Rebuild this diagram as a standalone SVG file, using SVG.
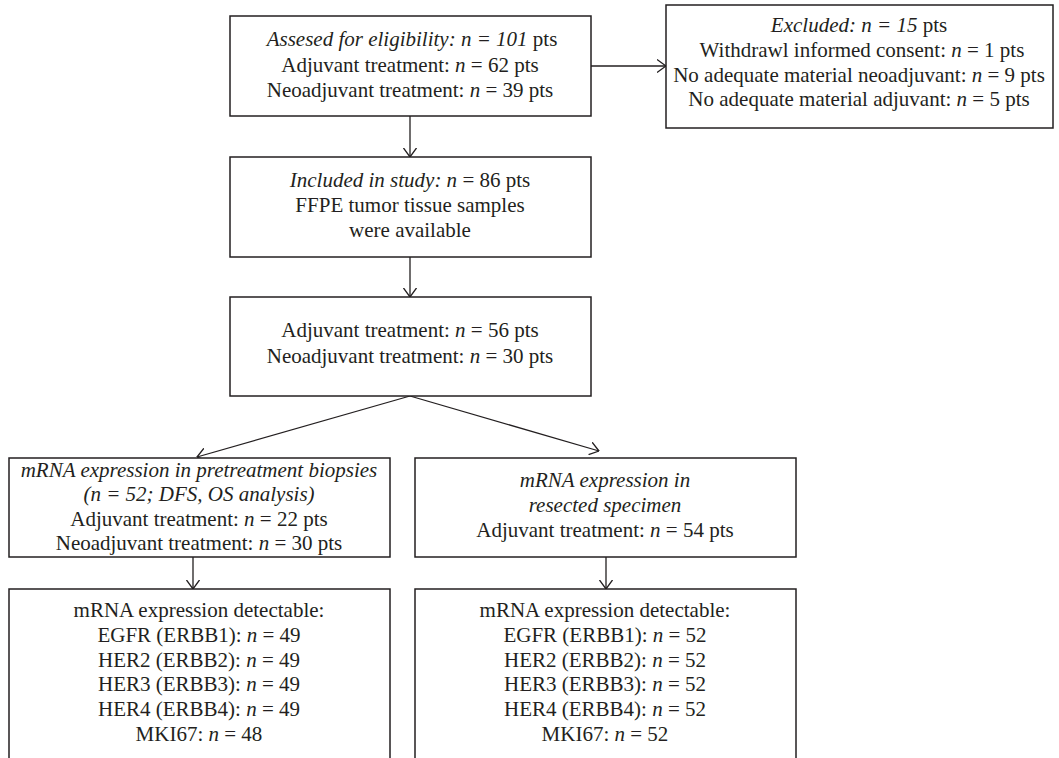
<svg xmlns="http://www.w3.org/2000/svg" width="1059" height="758" viewBox="0 0 1059 758">
<style>
.box{fill:#fff;stroke:#231f20;stroke-width:1.5}
.t{font-family:"Liberation Serif","Times New Roman",serif;font-size:21px;fill:#231f20;text-anchor:middle}
.i{font-style:italic}
.c{fill:none;stroke:#231f20;stroke-width:1.3}
</style>
<defs>
<marker id="ah" markerUnits="userSpaceOnUse" viewBox="0 0 10 14" refX="9.5" refY="7" markerWidth="10" markerHeight="14" orient="auto">
<path d="M0.5,0.5 L9.5,7 L0.5,13.5" fill="none" stroke="#231f20" stroke-width="1.3"/>
</marker>
</defs>
<rect width="1059" height="758" fill="#fff"/>
<g id="connectors">
<path class="c" d="M591,66 H666" marker-end="url(#ah)"/>
<path class="c" d="M410,116 V157" marker-end="url(#ah)"/>
<path class="c" d="M410,257 V297" marker-end="url(#ah)"/>
<path class="c" d="M410,396 L197,457" marker-end="url(#ah)"/>
<path class="c" d="M410,396 L599,451" marker-end="url(#ah)"/>
<path class="c" d="M193,557 V589" marker-end="url(#ah)"/>
<path class="c" d="M606,557 V589" marker-end="url(#ah)"/>
</g>
<g id="assessed">
<rect class="box" x="230" y="16" width="361" height="100"/>
<text class="t" x="412" y="46"><tspan class="i">Assesed for eligibility: n = 101</tspan> pts</text>
<text class="t" x="410" y="72">Adjuvant treatment: <tspan class="i">n</tspan> = 62 pts</text>
<text class="t" x="410" y="97">Neoadjuvant treatment: <tspan class="i">n</tspan> = 39 pts</text>
</g>
<g id="excluded">
<rect class="box" x="666" y="5" width="387" height="123"/>
<text class="t" x="859" y="32"><tspan class="i">Excluded: n = 15</tspan> pts</text>
<text class="t" x="862" y="57">Withdrawl informed consent: <tspan class="i">n</tspan> = 1 pts</text>
<text class="t" x="859" y="82">No adequate material neoadjuvant: <tspan class="i">n</tspan> = 9 pts</text>
<text class="t" x="859" y="106">No adequate material adjuvant: <tspan class="i">n</tspan> = 5 pts</text>
</g>
<g id="included">
<rect class="box" x="230" y="157" width="361" height="100"/>
<text class="t" x="410" y="187"><tspan class="i">Included in study: n</tspan> = 86 pts</text>
<text class="t" x="410" y="212">FFPE tumor tissue samples</text>
<text class="t" x="410" y="237">were available</text>
</g>
<g id="split">
<rect class="box" x="230" y="297" width="361" height="99"/>
<text class="t" x="410" y="337">Adjuvant treatment: <tspan class="i">n</tspan> = 56 pts</text>
<text class="t" x="410" y="363">Neoadjuvant treatment: <tspan class="i">n</tspan> = 30 pts</text>
</g>
<g id="pretreatment">
<rect class="box" x="9" y="458" width="381" height="99"/>
<text class="t i" x="199" y="477">mRNA expression in pretreatment biopsies</text>
<text class="t i" x="199" y="501">(n = 52; DFS, OS analysis)</text>
<text class="t" x="199" y="526">Adjuvant treatment: <tspan class="i">n</tspan> = 22 pts</text>
<text class="t" x="199" y="550">Neoadjuvant treatment: <tspan class="i">n</tspan> = 30 pts</text>
</g>
<g id="resected">
<rect class="box" x="415" y="458" width="381" height="99"/>
<text class="t i" x="605" y="487">mRNA expression in</text>
<text class="t i" x="605" y="512">resected specimen</text>
<text class="t" x="605" y="537">Adjuvant treatment: <tspan class="i">n</tspan> = 54 pts</text>
</g>
<g id="detect-left">
<rect class="box" x="9" y="589" width="381" height="190"/>
<text class="t" x="199" y="617">mRNA expression detectable:</text>
<text class="t" x="199" y="642">EGFR (ERBB1): <tspan class="i">n</tspan> = 49</text>
<text class="t" x="199" y="667">HER2 (ERBB2): <tspan class="i">n</tspan> = 49</text>
<text class="t" x="199" y="691">HER3 (ERBB3): <tspan class="i">n</tspan> = 49</text>
<text class="t" x="199" y="716">HER4 (ERBB4): <tspan class="i">n</tspan> = 49</text>
<text class="t" x="199" y="741">MKI67: <tspan class="i">n</tspan> = 48</text>
</g>
<g id="detect-right">
<rect class="box" x="415" y="589" width="381" height="190"/>
<text class="t" x="605" y="617">mRNA expression detectable:</text>
<text class="t" x="605" y="642">EGFR (ERBB1): <tspan class="i">n</tspan> = 52</text>
<text class="t" x="605" y="667">HER2 (ERBB2): <tspan class="i">n</tspan> = 52</text>
<text class="t" x="605" y="691">HER3 (ERBB3): <tspan class="i">n</tspan> = 52</text>
<text class="t" x="605" y="716">HER4 (ERBB4): <tspan class="i">n</tspan> = 52</text>
<text class="t" x="605" y="741">MKI67: <tspan class="i">n</tspan> = 52</text>
</g>
</svg>
